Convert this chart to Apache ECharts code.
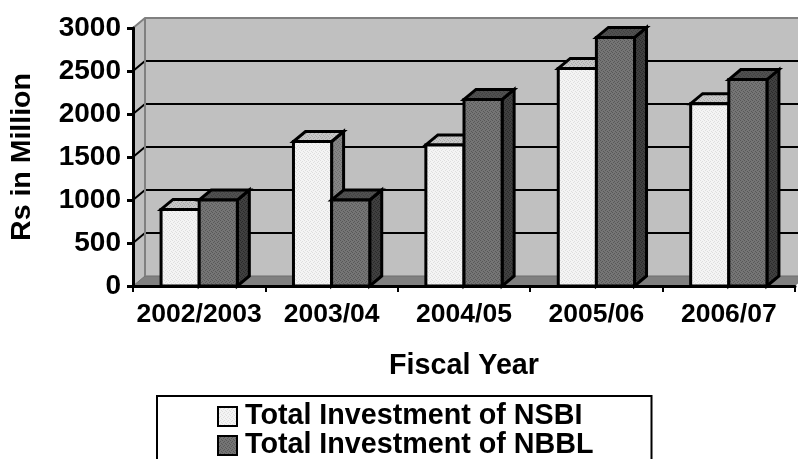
<!DOCTYPE html>
<html><head><meta charset="utf-8">
<style>html,body{margin:0;padding:0;background:#fff}#c{width:798px;height:459px}</style>
<script src="https://cdn.jsdelivr.net/npm/echarts@6/dist/echarts.min.js"></script>
</head><body><div id="c"></div>
<script>
const categories = ['2002/2003','2003/04','2004/05','2005/06','2006/07'];
const nsbi = [890,1680,1640,2530,2120];
const nbbl = [1000,1000,2170,2890,2400];
const yTicks = [0,500,1000,1500,2000,2500,3000];
const seriesNames = ['Total Investment of NSBI','Total Investment of NBBL'];

function dither(a,b){
  const c=document.createElement('canvas');c.width=4;c.height=4;
  const x=c.getContext('2d');
  x.fillStyle=a;x.fillRect(0,0,4,4);
  x.fillStyle=b;
  [[0,0],[2,1],[1,2],[3,3]].forEach(p=>x.fillRect(p[0],p[1],1,1));
  return {image:c,repeat:'repeat'};
}
const DX=12,DY=-10,FONT='"Liberation Sans",Arial,sans-serif';
const palette=[
 {front:dither('#f4f4f4','#dedede'),top:dither('#c8c8c8','#a8a8a8'),side:dither('#858585','#6c6c6c')},
 {front:dither('#757575','#585858'),top:dither('#505050','#404040'),side:dither('#404040','#2a2a2a')}
];
function poly(points,fill,lw){
  return {type:'polygon',shape:{points},style:{fill,stroke:'#000',lineWidth:lw,lineJoin:'miter'}};
}
function barRender(si){
  return function(params,api){
    const cat=api.value(0),val=api.value(1);
    const base=api.coord([cat,0]),top=api.coord([cat,val]);
    const w=api.size([1,0])[0]*0.288;
    const x0=base[0]+(si===0?-w:0),x1=x0+w,yb=base[1],yt=top[1];
    const p=palette[si];
    return {type:'group',children:[
      poly([[x1,yb],[x1+DX,yb+DY],[x1+DX,yt+DY],[x1,yt]],p.side,3),
      poly([[x0,yt],[x0+DX,yt+DY],[x1+DX,yt+DY],[x1,yt]],p.top,3),
      poly([[x0,yb],[x1,yb],[x1,yt],[x0,yt]],p.front,3)
    ]};
  };
}
function wallRender(params,api){
  const band=api.size([1,0])[0];
  const c0=api.coord([0,0]),c4=api.coord([categories.length-1,0]);
  const left=c0[0]-band/2,right=c4[0]+band/2,yb=c0[1],yt=api.coord([0,yTicks[yTicks.length-1]])[1];
  const ch=[
    {type:'polygon',shape:{points:[[left+DX,yt+DY],[right+DX,yt+DY],[right+DX,yb+DY],[left+DX,yb+DY]]},style:{fill:'#c0c0c0'}},
    {type:'polygon',shape:{points:[[left,yt],[left+DX,yt+DY],[left+DX,yb+DY],[left,yb]]},style:{fill:'#c0c0c0'}},
    {type:'polygon',shape:{points:[[left,yb],[left+DX,yb+DY],[right+DX,yb+DY],[right,yb]]},style:{fill:'#808080'}}
  ];
  yTicks.forEach((v,i)=>{
    if(i===0||i===yTicks.length-1)return;
    const y=api.coord([0,v])[1];
    ch.push({type:'polyline',shape:{points:[[left,y],[left+DX,y+DY],[right+DX,y+DY]]},style:{fill:'none',stroke:'#000',lineWidth:2}});
  });
  ch.push({type:'polyline',shape:{points:[[left,yt],[left+DX,yt+DY],[right+DX,yt+DY]]},style:{fill:'none',stroke:'#808080',lineWidth:2}});
  ch.push({type:'polyline',shape:{points:[[left,yb],[left+DX,yb+DY],[right+DX,yb+DY]]},style:{fill:'none',stroke:'#6e6e6e',lineWidth:1}});
  ch.push({type:'line',shape:{x1:left+DX,y1:yt+DY,x2:left+DX,y2:yb+DY},style:{stroke:'#808080',lineWidth:2}});
  return {type:'group',children:ch};
}
function barSeries(name,values,si){
  return {name,type:'custom',coordinateSystem:'cartesian2d',clip:false,z:3+si,animation:false,
    encode:{x:0,y:1},
    itemStyle:{color:palette[si].front,borderColor:'#000',borderWidth:2.5},
    renderItem:barRender(si),
    data:values.map((v,i)=>[i,v])};
}
const chart=echarts.init(document.getElementById('c'),null,{renderer:'canvas'});
chart.setOption({
  animation:false,backgroundColor:'#fff',
  grid:{left:133,right:3,top:28,bottom:173,containLabel:false,outerBoundsMode:'none'},
  xAxis:{type:'category',data:categories,z:10,
    name:'Fiscal Year',nameLocation:'middle',nameGap:66,
    nameTextStyle:{fontFamily:FONT,fontWeight:'bold',fontSize:28.7,color:'#000'},
    axisLine:{show:true,lineStyle:{color:'#000',width:3}},
    axisTick:{show:true,length:6,lineStyle:{color:'#000',width:2}},
    axisLabel:{fontFamily:FONT,fontWeight:'bold',fontSize:26.5,color:'#000',margin:15,interval:0,hideOverlap:false},
    splitLine:{show:false}},
  yAxis:{type:'value',min:0,max:3000,interval:500,z:10,
    name:'Rs in Million',nameLocation:'middle',nameGap:96,nameRotate:90,
    nameTextStyle:{fontFamily:FONT,fontWeight:'bold',fontSize:28.5,color:'#000'},
    axisLine:{show:true,lineStyle:{color:'#000',width:3}},
    axisTick:{show:true,length:6,lineStyle:{color:'#000',width:3}},
    axisLabel:{fontFamily:FONT,fontWeight:'bold',fontSize:28,color:'#000',margin:12,formatter:v=>String(v)},
    splitLine:{show:false}},
  legend:{show:true,left:157,top:396,height:200,orient:'vertical',
    data:seriesNames,itemGap:0,itemWidth:19,itemHeight:19,icon:'rect',selectedMode:false,
    backgroundColor:'#fff',borderColor:'#000',borderWidth:2,padding:[6,58,20,60],
    textStyle:{fontFamily:FONT,fontWeight:'bold',fontSize:28.7,color:'#000',lineHeight:27,padding:[0,0,0,3]}},
  series:[
    {type:'custom',coordinateSystem:'cartesian2d',clip:false,z:1,silent:true,animation:false,encode:{x:0,y:1},renderItem:wallRender,data:[[0,0]]},
    barSeries(seriesNames[0],nsbi,0),
    barSeries(seriesNames[1],nbbl,1)
  ]
});
</script></body></html>
